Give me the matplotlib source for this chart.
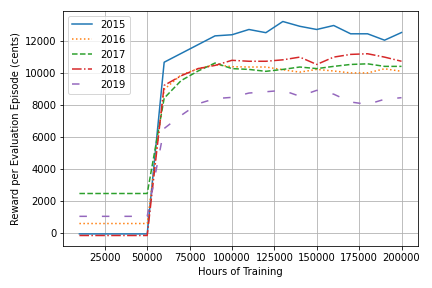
import matplotlib
matplotlib.use("Agg")
import matplotlib.pyplot as plt

hours = [10000, 20000, 30000, 40000, 50000, 60000, 70000, 80000, 90000, 100000,
         110000, 120000, 130000, 140000, 150000, 160000, 170000, 180000, 190000, 200000]

r2015 = [-50, -50, -50, -50, -50, 10700, 11250, 11800, 12350, 12420,
         12750, 12550, 13250, 12950, 12750, 13000, 12480, 12480, 12080, 12560]
r2016 = [600, 600, 600, 600, 600, 9000, 9900, 10300, 10550, 10420,
         10400, 10400, 10230, 10080, 10250, 10150, 10030, 10030, 10290, 10130]
r2017 = [2480, 2480, 2480, 2480, 2480, 8450, 9550, 10150, 10650, 10300,
         10250, 10130, 10250, 10400, 10300, 10440, 10560, 10600, 10440, 10440]
r2018 = [-150, -150, -150, -150, -150, 9250, 9850, 10300, 10500, 10820,
         10760, 10760, 10850, 11020, 10560, 11020, 11190, 11230, 11020, 10760]
r2019 = [1050, 1050, 1050, 1050, 1050, 6550, 7370, 8100, 8420, 8500,
         8770, 8850, 8940, 8570, 8940, 8700, 8210, 8060, 8380, 8480]

fig, ax = plt.subplots(figsize=(6, 4), dpi=72)
ax.plot(hours, r2015, label="2015")
ax.plot(hours, r2016, ":", label="2016")
ax.plot(hours, r2017, "--", label="2017")
ax.plot(hours, r2018, "-.", label="2018")
ax.plot(hours, r2019, linestyle=(0, (5, 10)), label="2019")
ax.set_xlabel("Hours of Training")
ax.set_ylabel("Reward per Evaluation Episode (cents)")
ax.grid(True)
ax.legend(loc="upper left")
plt.tight_layout()
plt.savefig("out.png")
